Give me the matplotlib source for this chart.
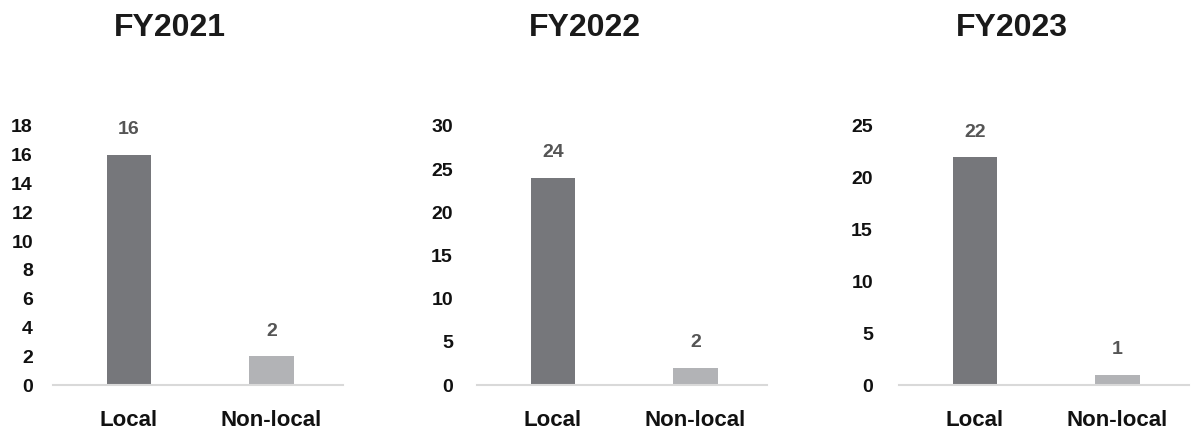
import matplotlib.pyplot as plt
from matplotlib.ticker import MultipleLocator

plt.rcParams['font.family'] = ['Liberation Sans', 'DejaVu Sans']

# Data
years = ['FY2021', 'FY2022', 'FY2023']
categories = ['Local', 'Non-local']
local = [16, 24, 22]
non_local = [2, 2, 1]
y_max = [18, 30, 25]
y_step = [2, 5, 5]

bar_colors = ['#76777b', '#b2b3b6']

W, H = 1192, 426
fig = plt.figure(figsize=(W / 100, H / 100), dpi=100)
fig.patch.set_facecolor('white')

# Panel placement in pixels: axes left edge, title centre, tick label pad
ax_left = [53, 477, 899]
title_x = [170, 585, 1012]
label_pad = [20, 24, 26]
ax_width = 290
ax_top, ax_bottom = 126, 385

for i, year in enumerate(years):
    ax = fig.add_axes([ax_left[i] / W, (H - ax_bottom) / H,
                       ax_width / W, (ax_bottom - ax_top) / H])
    vals = [local[i], non_local[i]]
    bars = ax.bar([0, 1], vals, width=0.31, color=bar_colors)

    ax.set_xlim(-0.53, 1.5)
    ax.set_ylim(0, y_max[i])
    ax.yaxis.set_major_locator(MultipleLocator(y_step[i]))
    ax.set_xticks([0, 1])
    ax.set_xticklabels(categories)

    for s in ['top', 'right', 'left']:
        ax.spines[s].set_visible(False)
    ax.spines['bottom'].set_color('#d9d9d9')
    ax.spines['bottom'].set_linewidth(1.5)

    ax.tick_params(axis='y', length=0, pad=label_pad[i] * 0.72,
                   labelsize=14, labelcolor='#111111')
    ax.tick_params(axis='x', length=0, pad=18, labelsize=16,
                   labelcolor='#111111')
    for lbl in ax.get_xticklabels() + ax.get_yticklabels():
        lbl.set_fontweight('bold')

    for b, v in zip(bars, vals):
        ax.annotate(str(v), (b.get_x() + b.get_width() / 2, v),
                    xytext=(0, 18), textcoords='offset points',
                    ha='center', va='center', fontsize=14,
                    fontweight='bold', color='#555555')

    fig.text(title_x[i] / W, 1 - 28 / H, year, ha='center', va='center',
             fontsize=23, fontweight='bold', color='#1a1a1a')

fig.savefig('out.png', dpi=100, facecolor='white')
